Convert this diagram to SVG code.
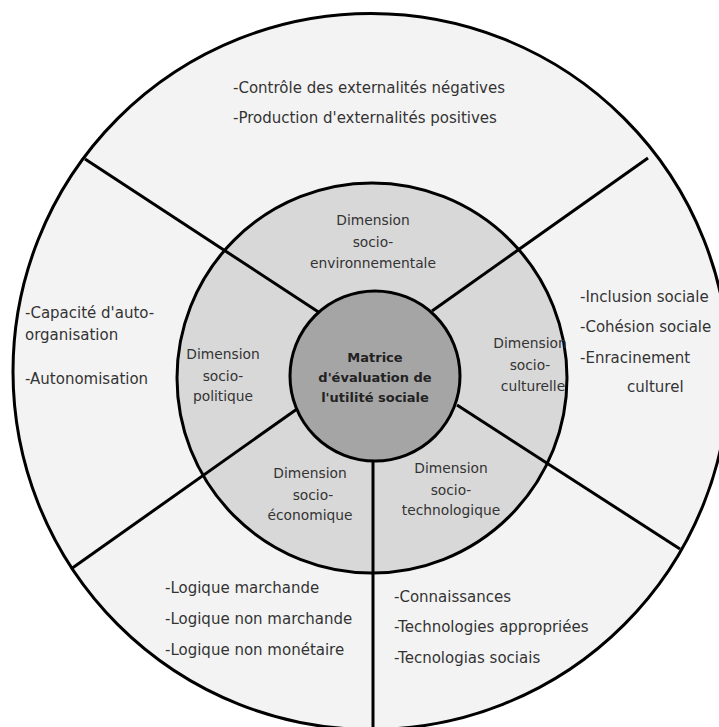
<svg xmlns="http://www.w3.org/2000/svg" width="719" height="727" viewBox="0 0 719 727">
<style>
.ring{stroke:#000;stroke-width:3}
.lbl{font-family:"DejaVu Sans",Verdana,sans-serif;font-size:15px;fill:#333}
.dim{font-family:"DejaVu Sans",Verdana,sans-serif;font-size:13.8px;fill:#333;text-anchor:middle}
.core{font-family:"DejaVu Sans",Verdana,sans-serif;font-size:13px;font-weight:bold;fill:#222;text-anchor:middle}
.conn{stroke:#000;stroke-width:3;fill:none}
</style>
<rect width="719" height="727" fill="#fff"/>
<g id="outer">
<circle class="ring" cx="371" cy="371.5" r="358" fill="#f3f3f3"/>
</g>
<g id="middle">
<circle class="ring" cx="372" cy="378" r="195" fill="#d8d8d8"/>
</g>
<g id="connectors">
<line class="conn" x1="85" y1="159" x2="320" y2="313"/>
<line class="conn" x1="648" y1="158" x2="432" y2="311"/>
<line class="conn" x1="71" y1="569" x2="297" y2="409"/>
<line class="conn" x1="680" y1="549" x2="457" y2="405"/>
<line class="conn" x1="373" y1="458" x2="373" y2="730"/>
</g>
<g id="core">
<circle class="ring" cx="375" cy="376" r="85" fill="#a5a5a5"/>
<text class="core" x="375" y="362">Matrice</text>
<text class="core" x="375" y="382">d'évaluation de</text>
<text class="core" x="375" y="402">l'utilité sociale</text>
</g>
<g id="dim-env">
<text class="dim" x="373" y="225">Dimension</text>
<text class="dim" x="373" y="247">socio-</text>
<text class="dim" x="373" y="268">environnementale</text>
</g>
<g id="dim-pol">
<text class="dim" x="223" y="359">Dimension</text>
<text class="dim" x="223" y="381">socio-</text>
<text class="dim" x="223" y="401">politique</text>
</g>
<g id="dim-cult">
<text class="dim" x="530" y="348">Dimension</text>
<text class="dim" x="530" y="370">socio-</text>
<text class="dim" x="533" y="391">culturelle</text>
</g>
<g id="dim-eco">
<text class="dim" x="310" y="478">Dimension</text>
<text class="dim" x="313" y="500">socio-</text>
<text class="dim" x="310" y="520">économique</text>
</g>
<g id="dim-tech">
<text class="dim" x="451" y="473">Dimension</text>
<text class="dim" x="451" y="495">socio-</text>
<text class="dim" x="451" y="515">technologique</text>
</g>
<g id="out-env">
<text class="lbl" x="233" y="93">-Contrôle des externalités négatives</text>
<text class="lbl" x="233" y="123">-Production d'externalités positives</text>
</g>
<g id="out-pol">
<text class="lbl" x="25" y="318">-Capacité d'auto-</text>
<text class="lbl" x="25" y="340">organisation</text>
<text class="lbl" x="25" y="384">-Autonomisation</text>
</g>
<g id="out-cult">
<text class="lbl" x="580" y="302">-Inclusion sociale</text>
<text class="lbl" x="580" y="332">-Cohésion sociale</text>
<text class="lbl" x="580" y="363">-Enracinement</text>
<text class="lbl" x="627" y="392">culturel</text>
</g>
<g id="out-eco">
<text class="lbl" x="165" y="593">-Logique marchande</text>
<text class="lbl" x="165" y="624">-Logique non marchande</text>
<text class="lbl" x="165" y="655">-Logique non monétaire</text>
</g>
<g id="out-tech">
<text class="lbl" x="394" y="602">-Connaissances</text>
<text class="lbl" x="394" y="632">-Technologies appropriées</text>
<text class="lbl" x="394" y="663">-Tecnologias sociais</text>
</g>
</svg>
